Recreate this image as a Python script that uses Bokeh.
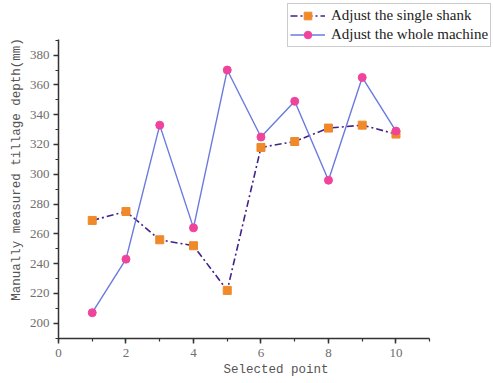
from bokeh.plotting import figure
from bokeh.models import Range1d, SingleIntervalTicker, Legend, LegendItem
from bokeh.embed import file_html
from bokeh.resources import INLINE

points = [1, 2, 3, 4, 5, 6, 7, 8, 9, 10]
single_shank = [269, 275, 256, 252, 222, 318, 322, 331, 333, 327]
whole_machine = [207, 243, 333, 264, 370, 325, 349, 296, 365, 329]

x_label = "Selected point"
y_label = "Manually measured tillage depth(mm)"
label_single = "Adjust the single shank"
label_whole = "Adjust the whole machine"

p = figure(width=493, height=383, output_backend="svg", toolbar_location=None,
           x_range=Range1d(0, 12.89), y_range=Range1d(189.7, 416.7))
p.min_border_left = 58
p.min_border_right = 0
p.min_border_top = 0
p.min_border_bottom = 45
p.outline_line_color = None
p.xgrid.grid_line_color = None
p.ygrid.grid_line_color = None
p.background_fill_color = "white"
p.border_fill_color = "white"

p.xaxis.ticker = SingleIntervalTicker(interval=2, num_minor_ticks=2)
p.yaxis.ticker = SingleIntervalTicker(interval=20, num_minor_ticks=2)
p.xaxis.bounds = (0, 11.0001)
p.yaxis.bounds = (189.7, 390.3)

for ax in (p.xaxis[0], p.yaxis[0]):
    ax.axis_line_color = "#333333"
    ax.axis_line_width = 1.5
    ax.major_tick_line_color = "#333333"
    ax.minor_tick_line_color = "#333333"
    ax.major_tick_line_width = 1.5
    ax.minor_tick_line_width = 1.2
    ax.major_tick_out = 5
    ax.major_tick_in = 0
    ax.minor_tick_out = 3
    ax.minor_tick_in = 0
    ax.major_label_text_font = "Liberation Serif"
    ax.major_label_text_font_size = "13px"
    ax.major_label_text_color = "#6e6e6e"
    ax.axis_label_text_font = "Liberation Mono"
    ax.axis_label_text_font_size = "12.5px"
    ax.axis_label_text_font_style = "normal"
    ax.axis_label_text_color = "#555555"

p.xaxis.axis_label = x_label
p.yaxis.axis_label = y_label
p.xaxis.major_label_standoff = 5
p.yaxis.major_label_standoff = 4
p.xaxis.axis_label_standoff = 3
p.yaxis.axis_label_standoff = 3

l1 = p.line(points, single_shank, line_color="#42228a", line_width=1.6, line_dash="7 3 2 3")
s1 = p.scatter(points, single_shank, marker="square", size=8, fill_color="#f0892a",
               line_color="#f0892a")
l2 = p.line(points, whole_machine, line_color="#6a7ade", line_width=1.4)
s2 = p.scatter(points, whole_machine, marker="circle", size=8, fill_color="#f0449c",
               line_color="#f0449c")

legend = Legend(items=[LegendItem(label=label_single, renderers=[l1, s1]),
                       LegendItem(label=label_whole, renderers=[l2, s2])],
                location=(229, 291))
legend.label_text_font = "Liberation Serif"
legend.label_text_font_size = "15px"
legend.label_text_color = "#222222"
legend.border_line_color = "#999999"
legend.border_line_width = 1
legend.background_fill_color = "white"
legend.background_fill_alpha = 1
legend.padding = 2
legend.spacing = 0
legend.margin = 0
legend.glyph_width = 35
legend.glyph_height = 19
legend.label_height = 19
legend.label_standoff = 6
p.add_layout(legend)

open("out.html", "w").write(file_html(p, INLINE))
